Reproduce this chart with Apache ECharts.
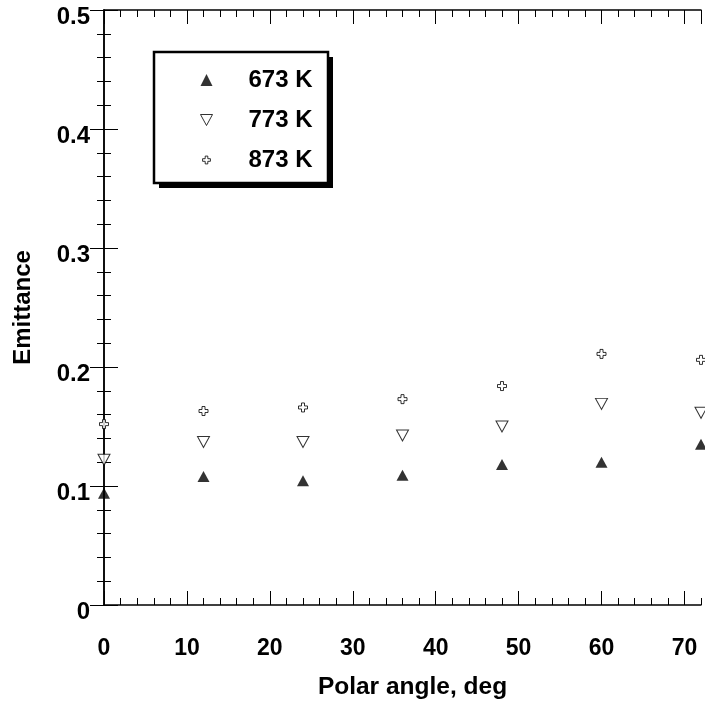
<!DOCTYPE html>
<html><head><meta charset="utf-8">
<script src="https://cdn.jsdelivr.net/npm/echarts@6/dist/echarts.min.js"></script>
<style>html,body{margin:0;padding:0;background:#fff}#c{width:705px;height:703px}</style>
</head><body><div id="c"></div>
<script>
// ---- data ----
const angles = [0, 12, 24, 36, 48, 60, 72];
const e673 = [0.094, 0.108, 0.1045, 0.109, 0.118, 0.120, 0.135];
const e773 = [0.122, 0.137, 0.137, 0.1425, 0.150, 0.169, 0.1615];
const e873 = [0.152, 0.163, 0.166, 0.173, 0.184, 0.211, 0.206];
const seriesNames = ['673 K', '773 K', '873 K'];
const xTickValues = [0, 10, 20, 30, 40, 50, 60, 70];
const yTickValues = [0, 0.1, 0.2, 0.3, 0.4, 0.5];

const plusPath = 'path://M1,0L2,0L2,1L3,1L3,2L2,2L2,3L1,3L1,2L0,2L0,1L1,1Z';
const plusLegendPath = 'path://M-0.8,-0.8L-0.8,-0.8M3.8,3.8L3.8,3.8M1,0L2,0L2,1L3,1L3,2L2,2L2,3L1,3L1,2L0,2L0,1L1,1Z';
const downTriPath = 'path://M0,0L12,0L6,11Z';

const pairs = arr => angles.map((a, i) => [a, arr[i]]);
const FONT = "'Liberation Sans', Arial, sans-serif";
const openStyle = { color: '#fff', borderColor: '#000', borderWidth: 1 };

function xAxisDef(pos, major, labels) {
  return {
    type: 'value', position: pos, min: 0, max: 72,
    interval: major ? 10 : 2,
    axisLine: { show: major, lineStyle: { color: '#000', width: 1.5 } },
    axisTick: { show: true, inside: true, length: major ? 14 : 7, lineStyle: { color: '#000', width: 1 } },
    axisLabel: labels ? {
      show: true, margin: 32, color: '#000', fontFamily: FONT, fontWeight: 'bold', fontSize: 23,
      showMaxLabel: false,
      formatter: v => (xTickValues.indexOf(v) >= 0 ? String(v) : '')
    } : { show: false },
    splitLine: { show: false },
    name: labels ? 'Polar angle, deg' : '',
    nameLocation: 'middle', nameGap: 70,
    nameTextStyle: { color: '#000', fontFamily: FONT, fontWeight: 'bold', fontSize: 24.5, padding: [0, 0, 0, 20] }
  };
}
function yAxisDef(pos, labels) {
  return {
    type: 'value', position: pos, min: 0, max: 0.5, interval: 0.1,
    axisLine: { show: true, lineStyle: { color: '#000', width: 1.5 } },
    axisTick: { show: true, inside: true, length: 14, lineStyle: { color: '#000', width: 1 } },
    minorTick: { show: true, splitNumber: 5, length: 7, lineStyle: { color: '#000', width: 1 } },
    axisLabel: labels ? {
      show: true, margin: 14, color: '#000', fontFamily: FONT, fontWeight: 'bold', fontSize: 24,
      verticalAlign: 'top', lineHeight: 14,
      formatter: v => { const t = yTickValues.find(y => Math.abs(y - v) < 1e-9); return t === undefined ? '' : String(t); }
    } : { show: false },
    splitLine: { show: false },
    name: labels ? 'Emittance' : '',
    nameLocation: 'middle', nameGap: 69, nameRotate: 90,
    nameTextStyle: { color: '#000', fontFamily: FONT, fontWeight: 'bold', fontSize: 24 }
  };
}

const chart = echarts.init(document.getElementById('c'), null, { renderer: 'canvas' });
chart.setOption({
  animation: false,
  backgroundColor: '#fff',
  grid: { left: 104, right: 4, top: 10, bottom: 98, containLabel: false, outerBoundsMode: 'none' },
  xAxis: [xAxisDef('bottom', true, true), xAxisDef('bottom', false, false), xAxisDef('top', true, false), xAxisDef('top', false, false)],
  yAxis: [yAxisDef('left', true), yAxisDef('right', false)],
  graphic: [
    { type: 'rect', z: 1, shape: { x: 159, y: 57, width: 174, height: 131 }, style: { fill: '#000' } },
    { type: 'rect', z: 2, shape: { x: 154, y: 52, width: 174, height: 131 }, style: { fill: '#fff', stroke: '#000', lineWidth: 2.5 } }
  ],
  legend: {
    orient: 'vertical', left: 154, top: 52, z: 10,
    padding: [16, 16, 11, 46],
    itemWidth: 12, itemHeight: 12, itemGap: 16,
    textStyle: { color: '#000', fontFamily: FONT, fontWeight: 'bold', fontSize: 24, lineHeight: 24, padding: [0, 0, 0, 31] },
    data: [
      { name: seriesNames[0], icon: 'triangle', itemStyle: { color: '#000', borderWidth: 0 } },
      { name: seriesNames[1], icon: downTriPath, itemStyle: openStyle },
      { name: seriesNames[2], icon: plusLegendPath, itemStyle: openStyle }
    ]
  },
  series: [
    { name: seriesNames[0], type: 'scatter', xAxisIndex: 0, yAxisIndex: 0, data: pairs(e673),
      symbol: 'triangle', symbolSize: [12, 11], itemStyle: { color: '#000' }, clip: false },
    { name: seriesNames[1], type: 'scatter', xAxisIndex: 0, yAxisIndex: 0, data: pairs(e773),
      symbol: 'triangle', symbolRotate: 180, symbolSize: [12, 11],
      itemStyle: openStyle, clip: false },
    { name: seriesNames[2], type: 'scatter', xAxisIndex: 0, yAxisIndex: 0, data: pairs(e873),
      symbol: plusPath, symbolSize: 9,
      itemStyle: openStyle, clip: false }
  ]
});
</script></body></html>
